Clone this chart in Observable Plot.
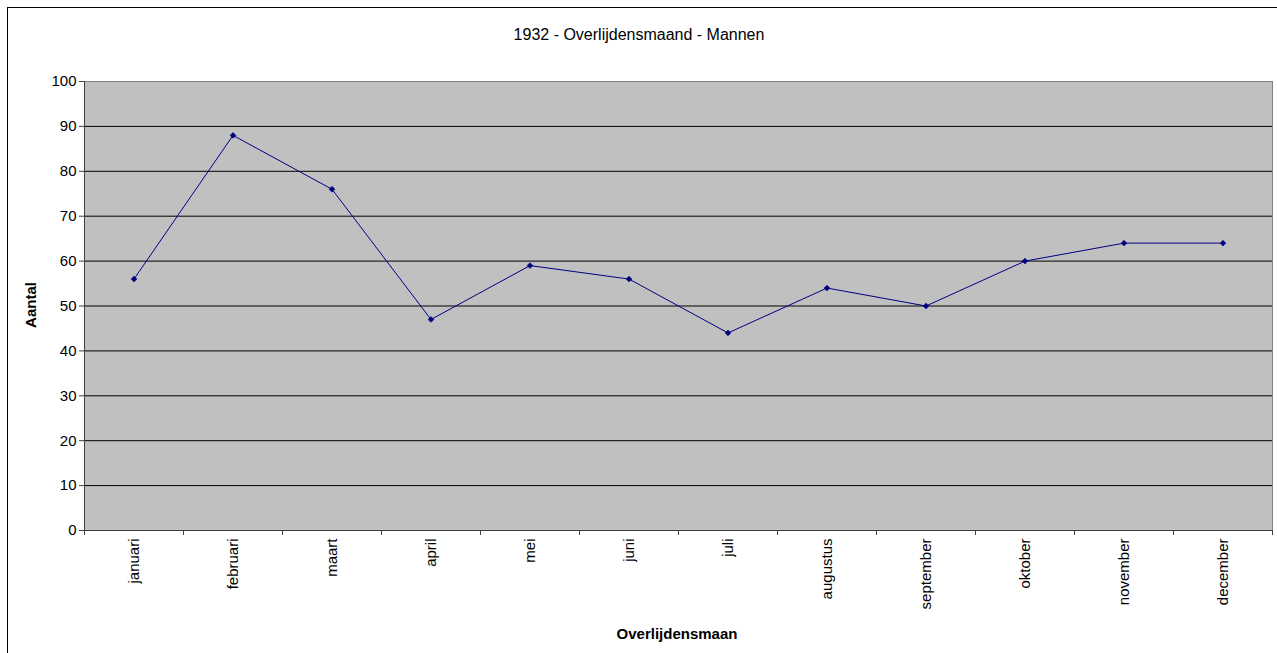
<!DOCTYPE html>
<html>
<head>
<meta charset="utf-8">
<script src="https://cdn.jsdelivr.net/npm/d3@7"></script>
<script src="https://cdn.jsdelivr.net/npm/@observablehq/plot@0.6"></script>
<style>
  html, body { margin: 0; padding: 0; background: #fff; }
  svg { display: block; }
</style>
</head>
<body>
<div id="chart"></div>
<script>
const months = ["januari","februari","maart","april","mei","juni","juli","augustus","september","oktober","november","december"];
const values = [56, 88, 76, 47, 59, 56, 44, 54, 50, 60, 64, 64];
const yTicks = [0,10,20,30,40,50,60,70,80,90,100];
const title = "1932 - Overlijdensmaand - Mannen";
const xTitle = "Overlijdensmaan";
const yTitle = "Aantal";

const data = months.map((m, i) => ({i, month: m, value: values[i]}));
const boundaries = d3.range(months.length + 1).map(k => k - 0.5);
const font = "Arial, 'Liberation Sans', sans-serif";

const W = 1277, H = 653;
const chart = Plot.plot({
  width: W,
  height: H,
  marginLeft: 84,
  marginRight: 5,
  marginTop: 81,
  marginBottom: 123,
  style: {fontFamily: font, fontSize: "15px", color: "#000", background: "transparent", overflow: "visible"},
  x: {type: "linear", domain: [-0.5, months.length - 0.5]},
  y: {domain: [0, 100]},
  marks: [
    Plot.frame({fill: "#C0C0C0", stroke: "#808080"}),
    Plot.ruleY(yTicks.filter(v => v > 0 && v < 100), {stroke: "#000", strokeWidth: 1}),
    Plot.ruleX([-0.5], {stroke: "#404040"}),
    Plot.ruleY([0], {stroke: "#404040"}),
    Plot.axisY({ticks: yTicks, tickSize: 5, tickPadding: 3, fontSize: 15, label: null, stroke: "#404040"}),
    Plot.axisX({ticks: boundaries, tickSize: 5, tickFormat: () => "", label: null, stroke: "#404040"}),
    Plot.axisX({ticks: d3.range(months.length), tickSize: 0, tickPadding: 8, tickRotate: -90, tickFormat: i => months[i], fontSize: 15, label: null}),
    Plot.line(data, {x: "i", y: "value", stroke: "#000080", strokeWidth: 1}),
    Plot.dot(data, {x: "i", y: "value", symbol: "diamond2", r: 2.6, fill: "#000080", stroke: "#000080", strokeWidth: 0.6})
  ]
});

const svg = d3.select(chart);
svg.append("rect")
  .attr("x", 7.5).attr("y", 7.5)
  .attr("width", W + 10).attr("height", H + 10)
  .attr("fill", "none").attr("stroke", "#000").attr("stroke-width", 1);
svg.append("text")
  .attr("x", 639).attr("y", 40)
  .attr("text-anchor", "middle")
  .style("font-family", font).style("font-size", "16px")
  .text(title);
svg.append("text")
  .attr("x", 677).attr("y", 639)
  .attr("text-anchor", "middle")
  .style("font-family", font).style("font-size", "15px").style("font-weight", "bold")
  .text(xTitle);
svg.append("text")
  .attr("transform", "translate(36,305) rotate(-90)")
  .attr("text-anchor", "middle")
  .style("font-family", font).style("font-size", "15px").style("font-weight", "bold")
  .text(yTitle);

document.getElementById("chart").appendChild(chart);
</script>
</body>
</html>
